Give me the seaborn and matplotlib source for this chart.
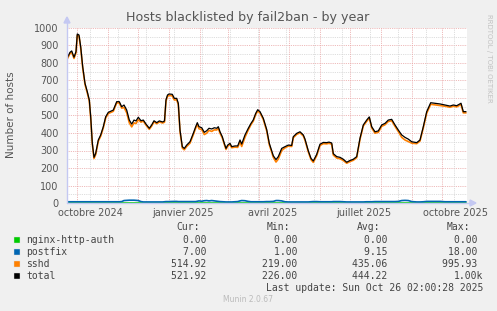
import matplotlib
matplotlib.use("Agg")
import matplotlib.pyplot as plt
from matplotlib.patches import Rectangle
import seaborn as sns
import numpy as np
import pandas as pd

# ---------------- data ----------------
title = "Hosts blacklisted by fail2ban - by year"
ylabel = "Number of hosts"
start = pd.Timestamp("2024-09-21 02:00")  # left edge of the 400-day window

# day offsets from start for each sample
day = [0, 3, 4.7, 7, 9, 10.3, 12, 13.7, 15.7, 18, 20.3, 22.3, 23.7, 25.3, 27, 28.7,
       31.3, 33.7, 36.3, 38.7, 41.3, 46.3, 49.7, 52.3, 54.7, 57, 59.7, 62.3, 64.7, 67,
       69, 71.3, 74, 76.3, 79, 82.3, 84.7, 87, 89.7, 92.3, 95.7, 97.5, 99, 100.5, 102,
       105.3, 107.3, 109.7, 111.3, 113, 115.3, 117.3, 119.7, 123, 126.3, 128.7, 130.3,
       132, 134.7, 137.3, 139.7, 142, 144.7, 147.3, 149.7, 151.3, 153, 155.3, 157.3, 159,
       160.7, 163, 164.7, 168, 170.7, 173, 174.7, 178, 181.3, 184, 186.3, 188.7, 190.7,
       193, 196.3, 199.7, 202.3, 206.3, 209, 211.3, 214.7, 218, 221.3, 224.7, 226.3,
       229.7, 233, 236.3, 238, 241.3, 244, 246.3, 249.7, 253, 256.3, 259.7, 262, 264.7,
       266.3, 269.7, 273, 276.3, 279.7, 283, 286.3, 289.7, 293, 296.3, 299.7, 302.3,
       304.7, 308, 311.3, 314.7, 318, 321.3, 324.7, 328, 331.3, 334.7, 338, 341.3, 344.7,
       349.7, 353, 356.3, 359.7, 363.7, 368, 373, 378, 383, 386.3, 389.7, 394, 396.3, 399]

total = [827, 861, 869, 833, 865, 966, 960, 893, 779, 684, 636, 589, 493, 343, 261, 284,
         360, 389, 436, 493, 518, 531, 579, 579, 550, 560, 531, 474, 451, 474,
         469, 490, 470, 474, 451, 427, 446, 470, 459, 469, 463, 469, 590, 617, 623,
         621, 598, 598, 570, 417, 322, 312, 331, 350, 398, 436, 459,
         436, 430, 404, 413, 427, 423, 430, 427, 436, 407, 379, 341, 312,
         331, 341, 322, 326, 326, 360, 337, 389, 427, 455, 475, 512, 533,
         522, 484, 420, 341, 270, 248, 265, 312, 322, 331, 329, 379,
         398, 407, 389, 365, 298, 255, 240, 278, 336, 346, 345, 348, 343,
         282, 265, 261, 250, 233, 243, 250, 265, 370, 446, 474, 492,
         436, 407, 412, 446, 455, 474, 478, 446, 417, 389, 375, 365, 350,
         345, 360, 436, 522, 573, 570, 566, 560, 554, 560, 556, 570, 522, 522]

postfix = [7, 7, 7, 7, 7, 7, 7, 7, 7, 7, 7, 7, 7, 7, 7, 7,
           7, 7, 7, 7, 7, 7, 7, 7, 8, 14, 15, 16, 16, 16,
           15, 14, 8, 6, 6, 6, 6, 6, 6, 6, 6, 7, 8, 8, 8,
           9, 9, 9, 8, 8, 8, 8, 8, 8, 8, 8, 10,
           12, 10, 13, 14, 12, 14, 12, 10, 9, 8, 7, 6, 6,
           6, 6, 6, 7, 8, 12, 14, 13, 9, 7, 7, 7, 7,
           7, 7, 8, 8, 9, 14, 14, 12, 7, 6, 6, 6,
           6, 6, 6, 6, 6, 7, 8, 8, 7, 7, 7, 7, 7,
           8, 8, 8, 7, 6, 6, 6, 6, 6, 6, 7, 7,
           7, 8, 8, 8, 8, 8, 8, 8, 9, 14, 15, 14, 8,
           6, 6, 7, 9, 9, 9, 9, 7, 7, 7, 7, 7, 7, 7]

nginx_day = [0, 399]
nginx = [0.0, 0.0]

series_names = ["nginx-http-auth", "postfix", "sshd", "total"]
series_colors = ["#00CC00", "#0066B3", "#FF8000", "#000000"]
cur_vals = ["0.00", "7.00", "514.92", "521.92"]
min_vals = ["0.00", "1.00", "219.00", "226.00"]
avg_vals = ["0.00", "9.15", "435.06", "444.22"]
max_vals = ["0.00", "18.00", "995.93", "1.00k"]
x_labels = ["octobre 2024", "janvier 2025", "avril 2025", "juillet 2025", "octobre 2025"]
x_label_dates = ["2024-10-15", "2025-01-15", "2025-04-15", "2025-07-15", "2025-10-15"]
last_update = "Last update: Sun Oct 26 02:00:28 2025"
footer = "Munin 2.0.67"
side_text = "RRDTOOL / TOBI OETIKER"

assert len(day) == len(total) == len(postfix), (len(day), len(total), len(postfix))

sshd = [t - p for t, p in zip(total, postfix)]

# ---------------- figure ----------------
sns.set_theme(style="white")
plt.rcParams['font.family'] = ['DejaVu Sans']

W, H = 497, 311
fig = plt.figure(figsize=(W / 100, H / 100), dpi=100, facecolor="#F0F0F0")
L, R, T, B = 67, 467, 28, 203
ax = fig.add_axes([L / W, (H - B) / H, (R - L) / W, (B - T) / H])
ax.set_facecolor("white")
ax.set_xlim(0, 400)
ax.set_ylim(0, 1000)
for s in ax.spines.values():
    s.set_visible(False)


def dd(d):
    return (pd.Timestamp(d) - start) / pd.Timedelta("1D")


# grid
red = "#E9A3A3"
grey = "#D2D2D2"
dot = (0, (1, 1.2))
for v in range(50, 1000, 100):
    ax.axhline(v, color=grey, lw=0.6, ls=dot, zorder=0)
for v in range(100, 1001, 100):
    ax.axhline(v, color=red, lw=0.6, ls=dot, zorder=0)
monday = dd("2025-10-13")
g = monday
while g > 0:
    ax.axvline(g, color=grey, lw=0.6, ls=dot, zorder=0)
    g -= 28
for m in pd.date_range("2024-10-01", "2025-10-01", freq="MS"):
    ax.axvline(dd(m), color=red, lw=0.6, ls=dot, zorder=0)

# series
sns.lineplot(x=nginx_day, y=nginx, color=series_colors[0], lw=1.2, ax=ax, zorder=3)
sns.lineplot(x=day, y=postfix, color=series_colors[1], lw=1.2, ax=ax, zorder=3)
sns.lineplot(x=day, y=sshd, color=series_colors[2], lw=1.2, ax=ax, zorder=4)
sns.lineplot(x=day, y=total, color=series_colors[3], lw=0.9, ax=ax, zorder=5)

# ticks
ax.set_yticks(range(0, 1001, 100))
ax.set_yticklabels([str(v) for v in range(0, 1001, 100)])
ax.set_xticks([dd(d) for d in x_label_dates])
ax.set_xticklabels(x_labels)
ax.tick_params(axis="both", length=0, labelsize=7, colors="#555555")
ax.tick_params(axis="y", pad=6)
ax.tick_params(axis="x", pad=3.5)
ax.set_xlabel("")
ax.set_ylabel("")

# axes with arrows
axis_col = "#C4C8F2"
fig.add_artist(plt.Line2D([L / W, L / W], [(H - B) / H, (H - 22) / H], color=axis_col, lw=1.0))
fig.add_artist(plt.Line2D([L / W, 472 / W], [(H - B) / H, (H - B) / H], color=axis_col, lw=1.0))
fig.add_artist(plt.Polygon([[(L - 3) / W, (H - 23) / H], [(L + 3) / W, (H - 23) / H], [L / W, (H - 17) / H]],
                           closed=True, color=axis_col, transform=fig.transFigure))
fig.add_artist(plt.Polygon([[470 / W, (H - B - 3) / H], [470 / W, (H - B + 3) / H], [476 / W, (H - B) / H]],
                           closed=True, color=axis_col, transform=fig.transFigure))


def ft(x, y, s, **kw):
    fig.text(x / W, 1 - y / H, s, **kw)


ft(248, 18, title, ha="center", va="center", fontsize=9.1, color="#555555")
ft(11, 115, ylabel, ha="center", va="center", rotation=90, fontsize=7.5, color="#555555")
ft(489, 58, side_text, ha="center", va="center", rotation=270, fontsize=5, color="#C2C2C2")

mono = dict(family="DejaVu Sans Mono", fontsize=7, color="#444444", va="center")
ft(176, 227.5, "Cur:", ha="left", **mono)
ft(267, 227.5, "Min:", ha="left", **mono)
ft(357, 227.5, "Avg:", ha="left", **mono)
ft(447, 227.5, "Max:", ha="left", **mono)
row_y = [240, 252, 264, 276]


def cell(v):
    return v if v.endswith("k") else v + " "


for i, name in enumerate(series_names):
    y = row_y[i]
    fig.add_artist(Rectangle((14 / W, 1 - (y + 3) / H), 6 / W, 6 / H, transform=fig.transFigure,
                             facecolor=series_colors[i], edgecolor="#DDDDDD", lw=0.3))
    ft(26.5, y, name, ha="left", **mono)
    ft(212, y, cell(cur_vals[i]), ha="right", **mono)
    ft(303, y, cell(min_vals[i]), ha="right", **mono)
    ft(393, y, cell(avg_vals[i]), ha="right", **mono)
    ft(483, y, cell(max_vals[i]), ha="right", **mono)

ft(483, 288, last_update, ha="right", **mono)
ft(248, 300, footer, ha="center", va="center", fontsize=5.5, color="#BBBBBB")

fig.savefig("out.png", dpi=100, facecolor=fig.get_facecolor())
